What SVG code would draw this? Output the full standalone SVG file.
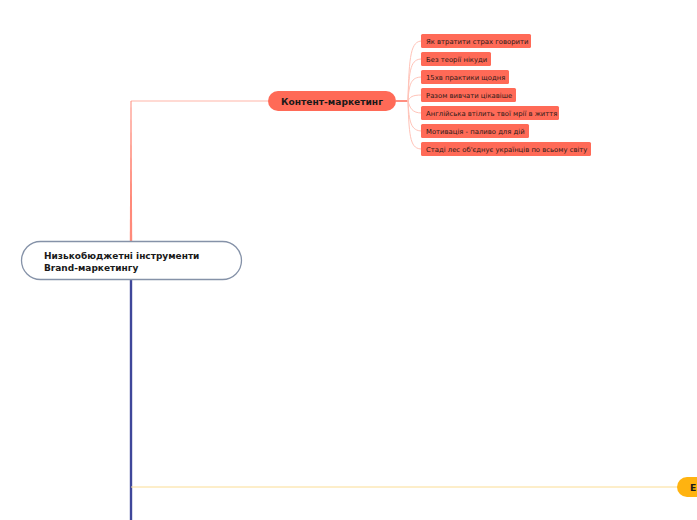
<svg xmlns="http://www.w3.org/2000/svg" width="697" height="520" viewBox="0 0 697 520">
<style>
  text { font-family: "DejaVu Sans", Verdana, sans-serif; fill: #1a1a1a; }
  .leaf rect { fill: #FF6A57; }
  .leaf text { font-size: 6.85px; fill: #2b1a17; }
  .lc { fill: none; stroke: #FFC3B8; stroke-width: 1; }
  .bold { font-weight: bold; }
</style>
<rect width="697" height="520" fill="#ffffff"/>
<g id="connectors">
  <path d="M131,101 H268" stroke="#FFB5A8" stroke-width="1" fill="none"/>
  <path d="M130.5,101 L131.5,101 L132.2,241 L129.8,241 Z" fill="#FF8A7A"/>
  <path d="M131,280 V520" stroke="#3F479A" stroke-width="2.4" fill="none"/>
  <path d="M131,487 H678" stroke="#FBDD94" stroke-width="1" fill="none"/>
  <path d="M396,101 H409" stroke="#FF6A57" stroke-width="1.5" fill="none"/>
  <path class="lc" d="M408,101 C409,55 411,41 422,41"/>
  <path class="lc" d="M408,101 C409,68 411,59 422,59"/>
  <path class="lc" d="M408,101 C409,84 411,77 422,77"/>
  <path class="lc" d="M408,101 C410,97 412,95 422,95"/>
  <path class="lc" d="M408,101 C410,108 412,113 422,113"/>
  <path class="lc" d="M408,101 C409,122 411,131 422,131"/>
  <path class="lc" d="M408,101 C409,140 411,149 422,149"/>
</g>
<g id="root">
  <rect x="21.5" y="241.5" width="220" height="38" rx="19" ry="19" fill="#ffffff" stroke="#8592A8" stroke-width="1.3"/>
  <text x="44" y="259" font-size="9" class="bold">Низькобюджетні інструменти</text>
  <text x="44" y="271" font-size="9" class="bold">Brand-маркетингу</text>
</g>
<g id="content">
  <rect x="268" y="91" width="128" height="20" rx="10" ry="10" fill="#FF6A57"/>
  <text x="332" y="104.5" font-size="9.1" text-anchor="middle" class="bold">Контент-маркетинг</text>
</g>
<g id="leaf1" class="leaf"><rect x="421" y="34" width="110" height="14" rx="1.5"/><text x="426" y="43.5">Як втратити страх говорити</text></g>
<g id="leaf2" class="leaf"><rect x="421" y="52" width="70" height="14" rx="1.5"/><text x="426" y="61.5">Без теорії нікуди</text></g>
<g id="leaf3" class="leaf"><rect x="421" y="70" width="88" height="14" rx="1.5"/><text x="426" y="79.5">15хв практики щодня</text></g>
<g id="leaf4" class="leaf"><rect x="421" y="88" width="95" height="14" rx="1.5"/><text x="426" y="97.5">Разом вивчати цікавіше</text></g>
<g id="leaf5" class="leaf"><rect x="421" y="106" width="138" height="14" rx="1.5"/><text x="426" y="115.5">Англійська втілить твої мрії в життя</text></g>
<g id="leaf6" class="leaf"><rect x="421" y="124" width="108" height="14" rx="1.5"/><text x="426" y="133.5">Мотивація - паливо для дій</text></g>
<g id="leaf7" class="leaf"><rect x="421" y="142" width="170" height="14" rx="1.5"/><text x="426" y="151.5">Стаді лес об'єднує українців по всьому світу</text></g>
<g id="yellow">
  <rect x="677" y="477" width="60" height="20" rx="10" ry="10" fill="#FFB310"/>
  <text x="690" y="490.5" font-size="9.3" class="bold">E</text>
</g>
</svg>
